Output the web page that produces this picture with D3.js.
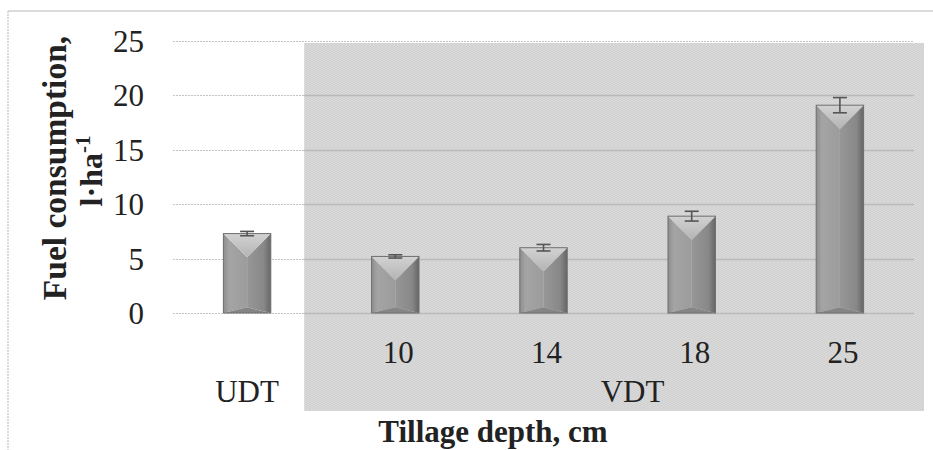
<!DOCTYPE html>
<html>
<head>
<meta charset="utf-8">
<script src="https://cdn.jsdelivr.net/npm/d3@7"></script>
<style>
  html, body { margin: 0; padding: 0; background: #fff; }
  svg { display: block; }
  text { font-family: "Liberation Serif", "Times New Roman", serif; fill: #222; }
</style>
</head>
<body>
<svg id="chart" width="933" height="450"></svg>
<script>
// ---- data ----
const categories = ["UDT", "10", "14", "18", "25"];
const groups = ["UDT", "VDT", "VDT", "VDT", "VDT"];
const fuelValues = [7.3, 5.2, 6.0, 8.9, 19.1];
const fuelErrors = [0.2, 0.15, 0.3, 0.45, 0.7];
const yTicks = [0, 5, 10, 15, 20, 25];
const yTitleLine1 = "Fuel consumption,";
const xTitle = "Tillage depth, cm";

// ---- layout ----
const W = 933, H = 450;
const plot = { left: 173, right: 914, top: 41, bottom: 313 };
const svg = d3.select("#chart");

const x = d3.scaleBand().domain(categories.map((c, i) => i)).range([plot.left, plot.right]);
const y = d3.scaleLinear().domain([0, 25]).range([plot.bottom, plot.top]);

// defs
const defs = svg.append("defs");
const pat = defs.append("pattern").attr("id", "tex").attr("patternUnits", "userSpaceOnUse")
  .attr("width", 4).attr("height", 4);
pat.append("rect").attr("width", 4).attr("height", 4).attr("fill", "#d9d9d9");
pat.append("path").attr("d", "M0,2 L2,0 L4,2 M0,4 L2,2 L4,4").attr("stroke", "#cfcfcf").attr("stroke-width", 0.8).attr("fill", "none");

function grad(id, stops, vertical) {
  const g = defs.append("linearGradient").attr("id", id)
    .attr("x1", 0).attr("y1", 0).attr("x2", vertical ? 0 : 1).attr("y2", vertical ? 1 : 0);
  stops.forEach(([o, c]) => g.append("stop").attr("offset", o).attr("stop-color", c));
}
grad("leftF", [[0, "#8e8e8e"], [0.25, "#a4a4a4"], [1, "#9c9c9c"]], false);
grad("rightF", [[0, "#979797"], [0.7, "#888888"], [1, "#666666"]], false);
grad("topF", [[0, "#d2d2d2"], [1, "#b4b4b4"]], true);

// outer frame
svg.append("line").attr("x1", 8).attr("x2", W).attr("y1", 11).attr("y2", 11)
  .attr("stroke", "#dcdcdc").attr("stroke-width", 2);
svg.append("line").attr("x1", 8).attr("x2", 8).attr("y1", 11).attr("y2", H)
  .attr("stroke", "#d0d0d0").attr("stroke-width", 1.5).attr("stroke-dasharray", "2,1");

// shaded VDT region
const shadeLeft = x(1) - 17, shadeRight = plot.right + 10, shadeTop = y(25) + 2, shadeBottom = 411;
svg.append("rect").attr("x", shadeLeft).attr("y", shadeTop)
  .attr("width", shadeRight - shadeLeft).attr("height", shadeBottom - shadeTop)
  .attr("fill", "url(#tex)");

// gridlines: dotted in white area, solid in shaded area
const grid = svg.append("g");
yTicks.forEach(t => {
  const yy = Math.round(y(t)) + 0.5;
  const inShade = yy > shadeTop;
  grid.append("line").attr("x1", plot.left).attr("x2", inShade ? shadeLeft : plot.right)
    .attr("y1", yy).attr("y2", yy).attr("stroke", "#c4c4c4").attr("stroke-width", 1.2)
    .attr("stroke-dasharray", "2,1");
  if (inShade) {
    grid.append("line").attr("x1", shadeLeft).attr("x2", plot.right)
      .attr("y1", yy).attr("y2", yy).attr("stroke", "#bababa").attr("stroke-width", 1.5);
  }
});

// y axis labels
const yAxis = d3.axisLeft(y).tickValues(yTicks).tickSize(0).tickPadding(0);
const yg = svg.append("g").attr("transform", `translate(144,0)`).call(yAxis);
yg.select(".domain").remove();
yg.selectAll("text").style("font-family", '"Liberation Serif", serif').style("font-size", "31px")
  .attr("fill", "#222").attr("dy", "0.34em");

// bars (bevelled)
const bw = x.bandwidth() * 0.32;
const bars = svg.append("g");
fuelValues.forEach((v, i) => {
  const cx = x(i) + x.bandwidth() / 2;
  const x0 = cx - bw / 2, x1 = cx + bw / 2;
  const y0 = y(v), yb = y(0);
  const h = yb - y0;
  const d = Math.min(bw * 0.5, h * 0.45);
  const dB = Math.min(bw * 0.12, h * 0.1);
  const g = bars.append("g");
  g.append("path").attr("d", `M${x0},${y0} L${cx},${y0 + d} L${cx},${yb - dB} L${x0},${yb} Z`).attr("fill", "url(#leftF)");
  g.append("path").attr("d", `M${x1},${y0} L${cx},${y0 + d} L${cx},${yb - dB} L${x1},${yb} Z`).attr("fill", "url(#rightF)");
  g.append("path").attr("d", `M${x0},${y0} L${x1},${y0} L${cx},${y0 + d} Z`).attr("fill", "url(#topF)");
  g.append("path").attr("d", `M${x0},${yb} L${x1},${yb} L${cx},${yb - dB} Z`).attr("fill", "#858585");
  g.append("rect").attr("x", x0).attr("y", y0).attr("width", bw).attr("height", h)
    .attr("fill", "none").attr("stroke", "#6e6e6e").attr("stroke-width", 1);
  // error bar
  const e = fuelErrors[i];
  const capW = 7;
  const eg = g.append("g").attr("stroke", "#555").attr("stroke-width", 1.6);
  eg.append("line").attr("x1", cx).attr("x2", cx).attr("y1", y(v + e)).attr("y2", y(v - e));
  eg.append("line").attr("x1", cx - capW).attr("x2", cx + capW).attr("y1", y(v + e)).attr("y2", y(v + e));
  eg.append("line").attr("x1", cx - capW).attr("x2", cx + capW).attr("y1", y(v - e)).attr("y2", y(v - e));
});

// category labels
const catLabels = svg.append("g");
categories.forEach((c, i) => {
  if (groups[i] === "UDT") return;
  catLabels.append("text").attr("x", x(i) + x.bandwidth() / 2 + 3).attr("y", 363)
    .attr("text-anchor", "middle").style("font-size", "31px").text(c);
});
// group labels
const groupNames = Array.from(new Set(groups));
groupNames.forEach(gn => {
  const idx = groups.map((g, i) => g === gn ? i : -1).filter(i => i >= 0);
  let gx = (x(idx[0]) + x(idx[idx.length - 1]) + x.bandwidth()) / 2;
  if (idx.length > 1) gx += 15;
  svg.append("text").attr("x", gx).attr("y", 402).attr("text-anchor", "middle")
    .style("font-size", "31px").text(gn);
});

// axis titles
svg.append("text").attr("x", 493).attr("y", 442).attr("text-anchor", "middle")
  .style("font-size", "31px").style("font-weight", "bold").attr("fill", "#111").text(xTitle);

const yt = svg.append("text").attr("transform", "rotate(-90)")
  .style("font-weight", "bold").style("font-size", "33.5px").attr("fill", "#111").attr("text-anchor", "middle")
  .attr("x", -168).attr("y", 66).text(yTitleLine1);
const t2 = svg.append("text").attr("transform", "rotate(-90)")
  .style("font-weight", "bold").style("font-size", "32px").attr("fill", "#111").attr("text-anchor", "middle")
  .attr("x", -171).attr("y", 102);
t2.append("tspan").text("l·ha");
t2.append("tspan").attr("dy", -12).style("font-size", "21px").text("-1");
</script>
</body>
</html>
